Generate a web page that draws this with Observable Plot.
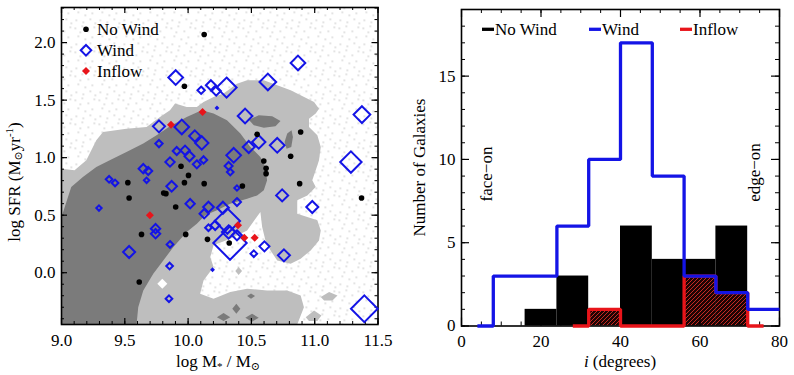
<!DOCTYPE html>
<html><head><meta charset="utf-8">
<script src="https://cdn.jsdelivr.net/npm/d3@7"></script>
<script src="https://cdn.jsdelivr.net/npm/@observablehq/plot@0.6"></script>
<style>
body{margin:0;background:#fff;font-family:"Liberation Serif","Times New Roman",Times,serif;}
#wrap{position:relative;width:794px;height:375px;overflow:hidden;}
#left{position:absolute;left:0;top:0;}
#right{position:absolute;left:400px;top:0;}
svg text{font-family:"Liberation Serif","Times New Roman",Times,"DejaVu Serif",serif !important;}
</style></head><body>
<svg width="0" height="0" style="position:absolute">
<defs>
<pattern id="dots" patternUnits="userSpaceOnUse" width="24" height="24">
<rect width="24" height="24" fill="#fff"/>
<g fill="#d4d4d4">
<rect x="2" y="3" width="1.6" height="1.6"/><rect x="9" y="1" width="1.6" height="1.6"/>
<rect x="15" y="6" width="1.6" height="1.6"/><rect x="21" y="2" width="1.6" height="1.6"/>
<rect x="5" y="11" width="1.6" height="1.6"/><rect x="12" y="14" width="1.6" height="1.6"/>
<rect x="19" y="12" width="1.6" height="1.6"/><rect x="3" y="19" width="1.6" height="1.6"/>
<rect x="10" y="21" width="1.6" height="1.6"/><rect x="17" y="18" width="1.6" height="1.6"/>
<rect x="22" y="22" width="1.6" height="1.6"/><rect x="7" y="7" width="1.6" height="1.6"/>
</g>
</pattern>
<pattern id="hatch" patternUnits="userSpaceOnUse" width="4" height="4">
<rect width="4" height="4" fill="#1e0404"/>
<path d="M-1,1 l2,-2 M0,4 l4,-4 M3,5 l2,-2" stroke="#c42a22" stroke-width="1"/>
</pattern>
</defs></svg>
<div id="wrap"><div id="left"></div><div id="right"></div></div>
<script>
// ---------------- LEFT PANEL DATA ----------------
const massTicks = [9.0, 9.5, 10.0, 10.5, 11.0, 11.5];
const sfrTicks = [0.0, 0.5, 1.0, 1.5, 2.0];

const noWindMass = [10.127, 9.971, 10.545, 10.889, 10.810, 10.598, 10.616, 10.616, 10.881, 11.370, 9.944, 10.003, 9.971, 10.127, 9.524, 9.534, 9.807, 9.825, 9.902, 10.429, 9.632, 9.981, 10.153, 10.325, 9.614];
const noWindSFR  = [2.070, 1.620, 1.203, 1.223, 1.012, 0.971, 0.907, 0.861, 0.774, 0.649, 0.925, 0.846, 0.783, 0.774, 0.783, 0.649, 0.693, 0.687, 0.571, 0.754, 0.333, 0.333, 0.290, 0.258, -0.081];

const windMass = [9.902, 10.103, 10.180, 10.222, 10.304, 10.228, 10.630, 10.868, 11.373, 11.286, 11.392, 10.450, 9.770, 9.950, 9.770, 10.053, 10.108, 9.910, 9.976, 10.011, 9.857, 10.069, 10.122, 10.360, 10.320, 10.333, 10.479, 10.558, 10.704, 9.646, 9.685, 9.672, 9.376, 9.423, 9.296, 9.870, 10.016, 10.386, 10.386, 10.743, 10.981, 10.161, 10.127, 10.275, 10.310, 10.331, 10.214, 10.161, 10.320, 10.386, 9.743, 9.743, 9.534, 9.857, 9.854, 9.849, 10.193, 10.519, 10.603, 10.757];
const windSFR  = [1.696, 1.586, 1.629, 1.580, 1.609, 1.432, 1.658, 1.823, 1.374, 0.962, -0.313, 1.362, 1.272, 1.267, 1.122, 1.188, 1.128, 1.058, 1.064, 1.012, 0.962, 0.942, 0.980, 1.020, 0.928, 0.875, 1.093, 1.136, 1.107, 0.904, 0.884, 0.803, 0.812, 0.780, 0.562, 0.751, 0.600, 0.736, 0.614, 0.672, 0.571, 0.571, 0.513, 0.565, 0.449, 0.258, 0.412, 0.391, 0.354, 0.325, 0.383, 0.339, 0.180, 0.246, 0.058, -0.226, 0.026, 0.165, 0.229, 0.151];
const windStrength = [4.4, 2.2, 3.0, 2.8, 6.0, 0.6, 5.0, 4.4, 5.0, 6.4, 8.0, 4.4, 3.6, 4.4, 2.2, 3.4, 4.0, 2.4, 2.8, 3.0, 2.8, 2.4, 2.2, 4.4, 2.4, 2.0, 3.6, 4.0, 4.4, 2.8, 2.4, 1.6, 2.0, 2.0, 1.6, 3.2, 2.8, 1.6, 2.4, 3.6, 3.6, 3.2, 2.8, 3.6, 7.6, 10.0, 2.8, 2.0, 4.0, 3.0, 2.8, 2.8, 3.6, 2.0, 2.0, 2.0, 0.6, 2.0, 3.0, 3.6];

const inflowMass = [10.114, 9.865, 9.698, 10.394, 10.444, 10.526];
const inflowSFR  = [1.397, 1.287, 0.499, 0.412, 0.304, 0.304];

// background galaxy density contours (log M*, log SFR)
const lightContour = [[9.0,0.904],[9.103,0.890],[9.196,0.977],[9.275,1.151],[9.328,1.223],[9.513,1.252],[9.672,1.267],[9.778,1.354],[9.857,1.412],[9.897,1.470],[9.989,1.441],[10.069,1.441],[10.122,1.484],[10.201,1.528],[10.280,1.557],[10.386,1.643],[10.466,1.672],[10.598,1.672],[10.704,1.629],[10.810,1.586],[10.889,1.542],[10.995,1.484],[11.034,1.426],[11.008,1.383],[10.955,1.339],[10.955,1.267],[11.021,1.194],[11.048,1.093],[11.034,0.977],[11.008,0.890],[10.981,0.803],[11.008,0.745],[10.942,0.672],[10.862,0.629],[10.862,0.513],[11.021,0.455],[11.048,0.368],[11.034,0.281],[10.968,0.194],[10.889,0.122],[10.810,0.078],[10.704,0.107],[10.651,0.194],[10.611,0.281],[10.585,0.397],[10.571,0.528],[10.466,0.368],[10.333,0.296],[10.201,0.238],[10.175,0.136],[10.201,0.049],[10.122,-0.067],[10.095,-0.183],[10.201,-0.226],[10.333,-0.168],[10.466,-0.139],[10.624,-0.154],[10.783,-0.154],[10.889,-0.197],[10.915,-0.299],[10.862,-0.45],[9.0,-0.45]];
const lightPatchA = [[11.048,-0.212],[11.114,-0.168],[11.180,-0.197],[11.140,-0.241],[11.074,-0.241]];
const lightPatchB = [[10.929,-0.386],[10.995,-0.328],[11.053,-0.371],[11.021,-0.420],[10.955,-0.420]];
const lightPatchC = [[10.373,0.014],[10.399,0.049],[10.426,0.014],[10.399,-0.020]];
const darkContour = [[9.0,0.484],[9.077,0.745],[9.169,0.832],[9.275,0.919],[9.381,0.977],[9.513,1.049],[9.646,1.122],[9.751,1.194],[9.857,1.272],[9.989,1.354],[10.108,1.412],[10.201,1.383],[10.307,1.325],[10.413,1.209],[10.492,1.093],[10.571,1.006],[10.611,0.919],[10.624,0.803],[10.598,0.716],[10.545,0.672],[10.466,0.643],[10.333,0.600],[10.228,0.542],[10.135,0.499],[10.069,0.426],[9.989,0.354],[9.884,0.223],[9.804,0.107],[9.725,-0.009],[9.646,-0.154],[9.606,-0.299],[9.593,-0.45],[9.0,-0.45]];
const darkLobeA = [[10.479,1.330],[10.558,1.368],[10.664,1.359],[10.730,1.319],[10.690,1.272],[10.598,1.261],[10.519,1.281]];
const darkLobeB = [[10.783,1.209],[10.817,1.238],[10.828,1.180],[10.815,1.093],[10.778,1.078],[10.762,1.136]];
const darkPatchA = [[10.228,-0.386],[10.280,-0.351],[10.333,-0.386],[10.280,-0.420]];
const darkPatchB = [[10.349,-0.313],[10.381,-0.270],[10.413,-0.313],[10.381,-0.357]];
const darkPatchC = [[10.452,-0.391],[10.505,-0.357],[10.558,-0.391],[10.505,-0.426]];
const darkPatchD = [[10.466,-0.203],[10.497,-0.180],[10.529,-0.203],[10.497,-0.226]];
const emptyPatch = [[9.757,-0.096],[9.796,-0.052],[9.836,-0.096],[9.796,-0.139]];

// ---------------- RIGHT PANEL DATA ----------------
const incTicks = [0, 20, 40, 60, 80];
const countTicks = [0, 5, 10, 15];
const binWidth = 8;
const noWindCenters = [20, 28, 44, 52, 60, 68];
const noWindCounts  = [1, 3, 6, 4, 4, 6];
const windCenters = [4, 12, 20, 28, 36, 44, 52, 60, 68, 76];
const windCounts  = [0, 3, 3, 6, 10, 17, 9, 3, 2, 1];
const inflowCenters = [28, 36, 44, 52, 60, 68, 76];
const inflowCounts  = [0, 1, 0, 0, 3, 2, 0];

// ---------------- HELPERS ----------------
const LG = "#bebebe", DG = "#7b7b7b", BLUE = "#1414e6", RED = "#e8141a";
const FONT = "'Liberation Serif', 'Times New Roman', Times, serif";
const diamondSym = {draw(ctx, size) { const r = Math.sqrt(size / Math.PI); ctx.moveTo(0, -r); ctx.lineTo(r, 0); ctx.lineTo(0, r); ctx.lineTo(-r, 0); ctx.closePath(); }};
const poly = (pts, color) => Plot.line(pts, {x: d => d[0], y: d => d[1], fill: color, stroke: "none", curve: "linear-closed"});
function xTicks(values, len, innerH, sw) {
  return [Plot.tickX(values, {x: d => d, insetTop: innerH - len, stroke: "black", strokeWidth: sw}),
          Plot.tickX(values, {x: d => d, insetBottom: innerH - len, stroke: "black", strokeWidth: sw})];
}
function yTicks(values, len, innerW, sw) {
  return [Plot.tickY(values, {y: d => d, insetRight: innerW - len, stroke: "black", strokeWidth: sw}),
          Plot.tickY(values, {y: d => d, insetLeft: innerW - len, stroke: "black", strokeWidth: sw})];
}
// IDL psym=10 style histogram outline from bin centres
function histOutline(centers, values, tailTo) {
  const pts = [];
  for (let i = 0; i < centers.length; i++) {
    const left = i === 0 ? centers[i] : (centers[i - 1] + centers[i]) / 2;
    let right = i === centers.length - 1 ? centers[i] : (centers[i] + centers[i + 1]) / 2;
    if (i === centers.length - 1 && tailTo != null) right = tailTo;
    pts.push({x: left, y: values[i]}, {x: right, y: values[i]});
  }
  return pts;
}

// ---------------- LEFT PLOT ----------------
const L = {w: 400, h: 375, ml: 61, mr: 22.5, mt: 7, mb: 51};
const innerHL = L.h - L.mt - L.mb, innerWL = L.w - L.ml - L.mr;
const wind = windMass.map((x, i) => ({x, y: windSFR[i], s: windStrength[i]}));
const noWind = noWindMass.map((x, i) => ({x, y: noWindSFR[i]}));
const inflow = inflowMass.map((x, i) => ({x, y: inflowSFR[i]}));
const minorMass = d3.range(90, 116).map(v => v / 10);
const minorSFR = d3.range(-4, 24).map(v => v / 10);

const left = Plot.plot({
  width: L.w, height: L.h, marginLeft: L.ml, marginRight: L.mr, marginTop: L.mt, marginBottom: L.mb,
  style: {fontFamily: FONT, fontSize: "17px", background: "white", color: "black", overflow: "visible"},
  x: {domain: [9, 11.5]},
  y: {domain: [-0.45, 2.305]},
  r: {type: "linear", domain: [0, 10], range: [0, 16.7]},
  marks: [
    Plot.frame({fill: "url(#dots)", stroke: "none"}),
    poly(lightContour, LG), poly(lightPatchA, LG), poly(lightPatchB, LG),
    poly(darkContour, DG), poly(darkLobeA, DG), poly(darkLobeB, DG),
    poly(darkPatchA, DG), poly(darkPatchB, DG), poly(darkPatchC, DG), poly(darkPatchD, DG),
    poly(lightPatchC, LG), poly(emptyPatch, "white"),
    ...xTicks(minorMass, 3, innerHL, 1), ...xTicks(massTicks, 6, innerHL, 1.2),
    ...yTicks(minorSFR, 3, innerWL, 1), ...yTicks(sfrTicks, 6, innerWL, 1.2),
    Plot.frame({stroke: "black", strokeWidth: 1.6}),
    Plot.axisX({ticks: massTicks, tickSize: 0, tickPadding: 9, tickFormat: d3.format(".1f"), label: null}),
    Plot.axisY({ticks: sfrTicks, tickSize: 0, tickPadding: 6, tickFormat: d3.format(".1f"), label: null}),
    Plot.dot(wind, {x: "x", y: "y", r: "s", symbol: diamondSym, fill: "none", stroke: BLUE, strokeWidth: 2}),
    Plot.dot(noWind, {x: "x", y: "y", r: 2.8, fill: "black", stroke: "none"}),
    Plot.dot(inflow, {x: "x", y: "y", r: 4, symbol: diamondSym, fill: RED, stroke: "none"})
  ]
});
document.getElementById("left").appendChild(left);

// ---------------- RIGHT PLOT ----------------
const R = {w: 394, h: 375, ml: 61, mr: 15, mt: 9, mb: 49.5};
const innerHR = R.h - R.mt - R.mb, innerWR = R.w - R.ml - R.mr;
const noWindBins = noWindCenters.map((c, i) => ({x1: c - binWidth / 2, x2: c + binWidth / 2, y: noWindCounts[i]}));
const inflowBins = inflowCenters.map((c, i) => ({x1: c - binWidth / 2, x2: c + binWidth / 2, y: inflowCounts[i]})).filter(d => d.y > 0);
const windLine = histOutline(windCenters, windCounts, 80);
const inflowLine = histOutline(inflowCenters, inflowCounts, null);

const right = Plot.plot({
  width: R.w, height: R.h, marginLeft: R.ml, marginRight: R.mr, marginTop: R.mt, marginBottom: R.mb,
  style: {fontFamily: FONT, fontSize: "17px", background: "white", color: "black", overflow: "visible"},
  x: {domain: [0, 80]},
  y: {domain: [0, 19]},
  marks: [
    Plot.rectY(noWindBins, {x1: "x1", x2: "x2", y: "y", fill: "black"}),
    Plot.rectY(inflowBins, {x1: "x1", x2: "x2", y: "y", fill: "url(#hatch)"}),
    ...xTicks(d3.range(0, 81, 5), 4, innerHR, 1), ...xTicks(incTicks, 8, innerHR, 1.2),
    ...yTicks(d3.range(0, 20, 1), 4, innerWR, 1), ...yTicks(countTicks, 8, innerWR, 1.2),
    Plot.frame({stroke: "black", strokeWidth: 1.6}),
    Plot.axisX({ticks: incTicks, tickSize: 0, tickPadding: 9, label: null}),
    Plot.axisY({ticks: countTicks, tickSize: 0, tickPadding: 6, label: null}),
    Plot.line(inflowLine, {x: "x", y: "y", stroke: RED, strokeWidth: 3.3, strokeLinejoin: "miter", strokeLinecap: "butt"}),
    Plot.line(windLine, {x: "x", y: "y", stroke: BLUE, strokeWidth: 3.3, strokeLinejoin: "miter", strokeLinecap: "butt"})
  ]
});
document.getElementById("right").appendChild(right);

// ---------------- TITLES & LEGENDS ----------------
const sl = d3.select(left);
sl.append("text").attr("transform", "translate(20,182) rotate(-90)").attr("text-anchor", "middle").attr("font-size", 17)
  .call(t => { t.append("tspan").text("log SFR (M");
    t.append("tspan").attr("font-size", 11).attr("dy", 2).text("⊙");
    t.append("tspan").attr("dy", -2).text("yr");
    t.append("tspan").attr("font-size", 11).attr("dy", -7).text("-1");
    t.append("tspan").attr("dy", 7).text(")"); });
sl.append("text").attr("x", 218).attr("y", 367).attr("text-anchor", "middle").attr("font-size", 17)
  .call(t => { t.append("tspan").text("log M");
    t.append("tspan").attr("font-size", 11).attr("dy", 3).text("*");
    t.append("tspan").attr("dy", -3).text(" / M");
    t.append("tspan").attr("font-size", 11).attr("dy", 3).text("⊙"); });
const legL = [{label: "No Wind", y: 35.3}, {label: "Wind", y: 56}, {label: "Inflow", y: 76.6}];
legL.forEach(d => sl.append("text").attr("x", 97).attr("y", d.y).attr("text-anchor", "start").attr("font-size", 17).text(d.label));
sl.append("circle").attr("cx", 86).attr("cy", 29.3).attr("r", 2.8).attr("fill", "black");
sl.append("path").attr("d", "M86,45 l5.3,5.3 l-5.3,5.3 l-5.3,-5.3 z").attr("fill", "none").attr("stroke", BLUE).attr("stroke-width", 2);
sl.append("path").attr("d", "M86,67 l4,4 l-4,4 l-4,-4 z").attr("fill", RED);

const sr = d3.select(right);
sr.append("text").attr("transform", "translate(24.5,167.5) rotate(-90)").attr("text-anchor", "middle").attr("font-size", 17).text("Number of Galaxies");
sr.append("text").attr("x", 220).attr("y", 367).attr("text-anchor", "middle").attr("font-size", 17)
  .call(t => { t.append("tspan").attr("font-style", "italic").text("i"); t.append("tspan").text(" (degrees)"); });
sr.append("text").attr("transform", "translate(91.5,174) rotate(-90)").attr("text-anchor", "middle").attr("font-size", 17).text("face\u2212on");
sr.append("text").attr("transform", "translate(359.5,172.5) rotate(-90)").attr("text-anchor", "middle").attr("font-size", 17).text("edge\u2212on");
const legR = [{label: "No Wind", c: "black", x: 82}, {label: "Wind", c: BLUE, x: 189}, {label: "Inflow", c: RED, x: 280}];
legR.forEach(d => {
  sr.append("line").attr("x1", d.x).attr("x2", d.x + 12).attr("y1", 29.3).attr("y2", 29.3).attr("stroke", d.c).attr("stroke-width", 3.3);
  sr.append("text").attr("x", d.x + 13).attr("y", 34.8).attr("text-anchor", "start").attr("font-size", 17).text(d.label);
});
</script>
</body></html>
